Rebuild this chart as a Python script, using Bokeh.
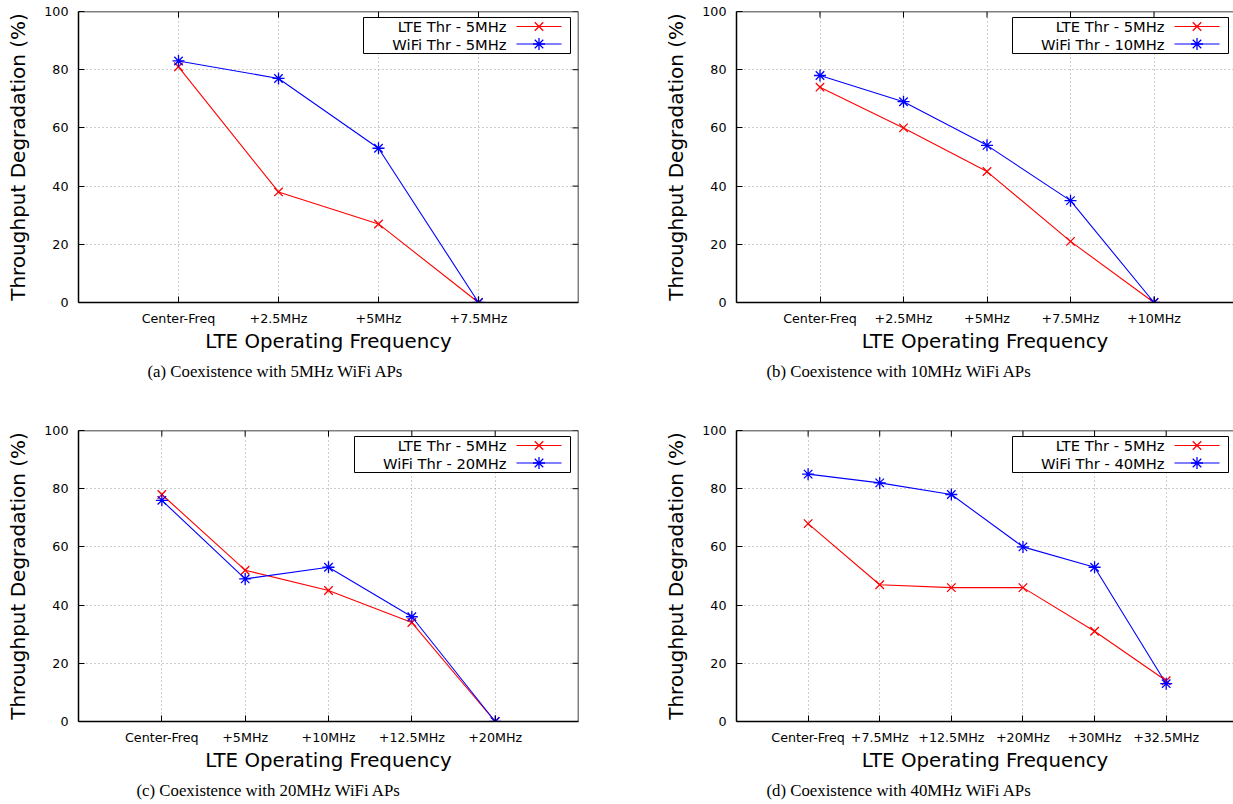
from bokeh.plotting import figure
from bokeh.models import Range1d, FixedTicker, LinearAxis, Title, Span
from bokeh.layouts import column, row
from bokeh.embed import file_html
from bokeh.resources import INLINE
from bokeh.core.properties import value

# ---------------- data ----------------
cats_a = ["Center-Freq", "+2.5MHz", "+5MHz", "+7.5MHz"]
lte_a = [81, 38, 27, 0]
wifi_a = [83, 77, 53, 0]

cats_b = ["Center-Freq", "+2.5MHz", "+5MHz", "+7.5MHz", "+10MHz"]
lte_b = [74, 60, 45, 21, 0]
wifi_b = [78, 69, 54, 35, 0]

cats_c = ["Center-Freq", "+5MHz", "+10MHz", "+12.5MHz", "+20MHz"]
lte_c = [78, 52, 45, 34, 0]
wifi_c = [76, 49, 53, 36, 0]

cats_d = ["Center-Freq", "+7.5MHz", "+12.5MHz", "+20MHz", "+30MHz", "+32.5MHz"]
lte_d = [68, 47, 46, 46, 31, 14]
wifi_d = [85, 82, 78, 60, 53, 13]

y_ticks = [0, 20, 40, 60, 80, 100]
lte_label = "LTE Thr - 5MHz"
wifi_labels = ["WiFi Thr - 5MHz", "WiFi Thr - 10MHz", "WiFi Thr - 20MHz", "WiFi Thr - 40MHz"]
captions = ["(a) Coexistence with 5MHz WiFi APs", "(b) Coexistence with 10MHz WiFi APs",
            "(c) Coexistence with 20MHz WiFi APs", "(d) Coexistence with 40MHz WiFi APs"]
y_label = "Throughput Degradation (%)"
x_label = "LTE Operating Frequency"

FONT = "DejaVu Sans"
SERIF = "Liberation Serif"
FRAME_H = 291.0
TICK = 6


def make_panel(cats, lte, wifi, wifi_label, caption, x_end, width, mb_left, mb_right,
               height, mb_top, mb_bottom, right_border, cap_offset, legend_w):
    n = len(cats)
    p = figure(width=width, height=height, x_range=Range1d(-1, x_end), y_range=Range1d(0, 100),
               output_backend="svg", toolbar_location=None,
               min_border_left=mb_left, min_border_right=mb_right,
               min_border_top=mb_top, min_border_bottom=mb_bottom,
               x_axis_location=None, y_axis_location=None)
    p.outline_line_color = None
    p.background_fill_color = "white"
    xt = FixedTicker(ticks=list(range(n)))
    yt = FixedTicker(ticks=y_ticks)
    overrides = {i: c for i, c in enumerate(cats)}
    frame_w = width - mb_left - mb_right
    ppu = frame_w / (x_end + 1)

    def style_axis(ax):
        ax.axis_line_color = "black"
        ax.axis_line_width = 1.5
        ax.major_tick_in = TICK
        ax.major_tick_out = 0
        ax.major_tick_line_color = "black"
        ax.minor_tick_line_color = None
        ax.major_label_text_font = FONT
        ax.major_label_text_font_size = "12.7px"
        ax.major_label_text_color = "black"
        ax.axis_label_text_font = FONT
        ax.axis_label_text_font_style = "normal"
        ax.axis_label_text_color = "black"

    xb = LinearAxis(ticker=xt, major_label_overrides=overrides, axis_label=x_label)
    style_axis(xb)
    xb.axis_label_text_font_size = "19.8px"
    xb.major_label_standoff = 8
    xb.axis_label_standoff = 1
    p.add_layout(xb, "below")

    yl = LinearAxis(ticker=yt, axis_label=y_label)
    style_axis(yl)
    yl.axis_label_text_font_size = "20px"
    yl.major_label_standoff = 10
    yl.axis_label_standoff = 11
    p.add_layout(yl, "left")

    # top border + mirrored ticks (gnuplot style)
    p.add_layout(Span(location=100, dimension="width", line_color="black", line_width=1.5))
    xs = list(range(n))
    tick_dy = TICK * 100.0 / FRAME_H
    p.segment(x0=xs, y0=[100] * n, x1=xs, y1=[100 - tick_dy] * n, line_color="black", line_width=1)
    if right_border:
        p.add_layout(Span(location=x_end, dimension="height", line_color="black", line_width=1.5))
        m = len(y_ticks)
        p.segment(x0=[x_end] * m, y0=y_ticks, x1=[x_end - TICK / ppu] * m, y1=y_ticks,
                  line_color="black", line_width=1)

    p.add_layout(Title(text=caption, align="left", offset=cap_offset, text_font=SERIF,
                       text_font_size="16.8px", text_font_style="normal", text_color="black",
                       standoff=8), "below")

    p.xgrid.ticker = xt
    p.ygrid.ticker = yt
    for g in (p.xgrid, p.ygrid):
        g.grid_line_color = "#9a9a9a"
        g.grid_line_dash = "1 3"
        g.grid_line_width = 1

    p.line(xs, lte, color="red", line_width=1.1)
    p.line(xs, wifi, color="blue", line_width=1.1)
    p.scatter(xs, lte, marker="x", size=12, line_color="red", line_width=1.3)
    p.scatter(xs, wifi, marker="asterisk", size=12, line_color="blue", line_width=1.3)

    # legend (gnuplot style: text right-aligned, sample on the right)
    def X(px):
        return -1 + px / ppu

    def Y(py):
        return 100 - py * 100.0 / FRAME_H

    box_r = 492
    p.quad(left=[X(box_r - legend_w)], right=[X(box_r)], top=[Y(6)], bottom=[Y(42)],
           fill_color="white", line_color="black", line_width=1)
    for ry, lab, col, mk in ((15, lte_label, "red", "x"), (32.5, wifi_label, "blue", "asterisk")):
        p.text(x=[X(box_r - 64)], y=[Y(ry)], text=[lab], text_align="right", text_baseline="middle",
               text_font=value(FONT), text_font_size="14.7px", text_color="black")
        p.line([X(box_r - 54), X(box_r - 9)], [Y(ry), Y(ry)], color=col, line_width=1.1)
        p.scatter([X(box_r - 31.5)], [Y(ry)], marker=mk, size=12, line_color=col, line_width=1.3)
    return p


pa = make_panel(cats_a, lte_a, wifi_a, wifi_labels[0], captions[0], 4.0, 620, 78, 42,
                410, 11, 108, True, 69, 207)
pb = make_panel(cats_b, lte_b, wifi_b, wifi_labels[1], captions[1], 4.952, 613, 116, 0,
                410, 11, 108, False, 30, 216)
pc = make_panel(cats_c, lte_c, wifi_c, wifi_labels[2], captions[2], 5.0, 620, 78, 42,
                394, 20, 83, True, 58, 216)
pd = make_panel(cats_d, lte_d, wifi_d, wifi_labels[3], captions[3], 5.94, 613, 116, 0,
                394, 20, 83, False, 30, 216)

layout = column(row(pa, pb), row(pc, pd))
open("out.html", "w").write(file_html(layout, INLINE))
